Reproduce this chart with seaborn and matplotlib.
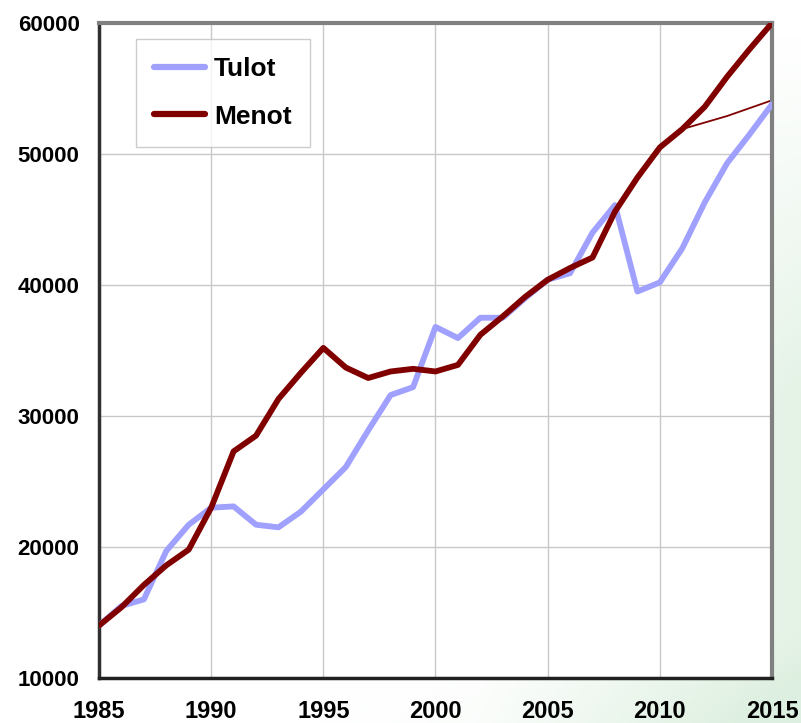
import numpy as np
import pandas as pd
import matplotlib
matplotlib.use("Agg")
import matplotlib.pyplot as plt
import seaborn as sns

years = list(range(1985, 2016))
tulot = [14000, 15500, 16000, 19700, 21700, 23000, 23100, 21700, 21500, 22700,
         24400, 26100, 28900, 31600, 32200, 36800, 35950, 37500, 37500, 39000,
         40400, 40900, 44000, 46100, 39500, 40200, 42800, 46300, 49300, 51500, 53800]
menot = [14000, 15400, 17100, 18600, 19800, 23000, 27300, 28500, 31300, 33300,
         35200, 33700, 32900, 33400, 33600, 33400, 33900, 36200, 37600, 39100,
         40400, 41300, 42100, 45600, 48200, 50500, 51900, 53600, 55900, 58000, 60000]
ennuste_years = [2011, 2012, 2013, 2014, 2015]
ennuste = [51900, 52400, 52900, 53500, 54100]

x_ticks = [1985, 1990, 1995, 2000, 2005, 2010, 2015]
y_ticks = [10000, 20000, 30000, 40000, 50000, 60000]

df = pd.DataFrame({"Vuosi": years + years,
                   "Arvo": tulot + menot,
                   "Sarja": ["Tulot"] * len(years) + ["Menot"] * len(years)})
df_e = pd.DataFrame({"Vuosi": ennuste_years, "Arvo": ennuste})

sns.set_theme(style="white")
plt.rcParams["font.family"] = ["Liberation Sans", "DejaVu Sans"]

W, H = 801, 723
fig = plt.figure(figsize=(W / 100, H / 100), dpi=100)
fig.patch.set_facecolor("white")

# subtle green background gradient
bg = fig.add_axes([0, 0, 1, 1], zorder=-10)
xx, yy = np.meshgrid(np.linspace(0, 1, 200), np.linspace(0, 1, 200))
g = np.clip((xx - 0.6) / 0.4, 0, 1) * np.clip((0.95 - yy) / 0.5, 0, 1) * 0.8
g += np.clip((0.12 - yy) / 0.12, 0, 1) * np.clip((xx - 0.4) / 0.6, 0, 1) * 0.4
g = np.clip(g, 0, 1)
img = np.ones((200, 200, 3))
tint = np.array([0.87, 0.94, 0.88])
img = img * (1 - g[..., None]) + tint * g[..., None]
bg.imshow(img, extent=[0, 1, 0, 1], aspect="auto", origin="lower")
bg.axis("off")

ax = fig.add_axes([99 / W, (H - 678) / H, 673 / W, 655 / H])
ax.set_facecolor("white")

pal = {"Tulot": "#a0a0ff", "Menot": "#800000"}
sns.lineplot(data=df, x="Vuosi", y="Arvo", hue="Sarja", palette=pal,
             hue_order=["Tulot", "Menot"], linewidth=4.2, ax=ax, zorder=3)
sns.lineplot(data=df_e, x="Vuosi", y="Arvo", color="#800000", linewidth=1.3,
             ax=ax, zorder=2, legend=False)

ax.set_xlim(1985, 2015)
ax.set_ylim(10000, 60000)
ax.set_xticks(x_ticks)
ax.set_yticks(y_ticks)
ax.set_xticklabels([str(v) for v in x_ticks], fontsize=17, fontweight="bold")
ax.set_yticklabels([str(v) for v in y_ticks], fontsize=16, fontweight="bold")
ax.tick_params(axis="x", length=0, pad=16, colors="black")
ax.tick_params(axis="y", length=0, pad=14, colors="black")
ax.set_xlabel("")
ax.set_ylabel("")
ax.grid(True, color="#c8c8c8", linewidth=1)

for s in ["top", "right"]:
    ax.spines[s].set_color("#808080")
    ax.spines[s].set_linewidth(3)
ax.spines["left"].set_color("#303030")
ax.spines["left"].set_linewidth(2.5)
ax.spines["bottom"].set_color("#202020")
ax.spines["bottom"].set_linewidth(2.5)

leg = ax.legend(loc="upper left", bbox_to_anchor=(37 / 673, 1 - 16 / 655),
                frameon=True, fancybox=False, handlelength=1.9,
                handletextpad=0.35, borderpad=0.7, labelspacing=0.88,
                borderaxespad=0, prop={"weight": "bold", "size": 19})
leg.get_frame().set_edgecolor("#c0c0c0")
leg.get_frame().set_linewidth(1)
for t in leg.get_texts():
    t.set_color("black")
for line in leg.get_lines():
    line.set_linewidth(4.5)
    line.set_solid_capstyle("round")

fig.savefig("out.png", dpi=100, facecolor=fig.get_facecolor())
